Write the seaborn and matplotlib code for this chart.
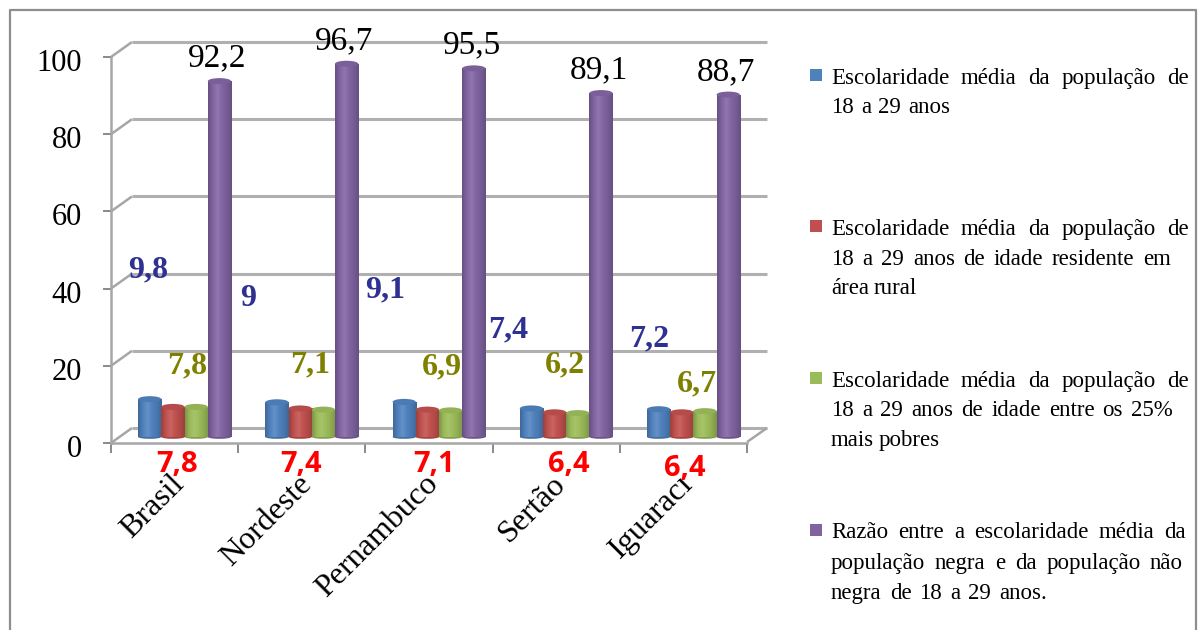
import numpy as np
import pandas as pd
import matplotlib
matplotlib.use("Agg")
import matplotlib.pyplot as plt
import matplotlib.transforms as mtrans
import seaborn as sns
from matplotlib.lines import Line2D
from matplotlib.patches import Ellipse, Rectangle
from matplotlib.colors import LinearSegmentedColormap, to_rgb

categories = ["Brasil", "Nordeste", "Pernambuco", "Sertão", "Iguaracı"]
series_names = ["Escolaridade média", "Escolaridade rural", "Escolaridade 25% mais pobres", "Razão negra / não negra"]
escolaridade = [9.8, 9.0, 9.1, 7.4, 7.2]
rural = [7.8, 7.4, 7.1, 6.4, 6.4]
pobres = [7.8, 7.1, 6.9, 6.2, 6.7]
razao = [92.2, 96.7, 95.5, 89.1, 88.7]
y_ticks = [0, 20, 40, 60, 80, 100]
colors = ["#4F81BD", "#C0504D", "#9BBB59", "#8064A2"]
legend_lines = [
    ["Escolaridade média da população de", "18 a 29 anos"],
    ["Escolaridade média da população de", "18 a 29 anos de idade residente em", "área rural"],
    ["Escolaridade média da população de", "18 a 29 anos de idade entre os 25%", "mais pobres"],
    ["Razão entre a escolaridade média da", "população negra e da população não", "negra de 18 a 29 anos."],
]
legend_line_ends = [[1189, 950], [1189, 1171, None], [1189, 1173, None], [1186, 1183, 1047]]
legend_line_y = [[84, 113], [235, 265, 294], [387, 416, 446], [538, 569, 599]]
legend_marker_y = [75, 226, 378, 530]
blue_label_xy = [(148, 270), (248, 298), (385, 290), (508, 330), (649, 339)]
red_label_xy = [(177, 464), (301, 464), (434, 464), (569, 464), (685, 468)]
green_label_xy = [(187, 366), (310, 365), (442, 367), (565, 365), (697, 384)]

W, H = 1200, 630
sns.set_theme(style="white")
plt.rcParams["font.family"] = ["Liberation Serif", "DejaVu Sans"]
fig = plt.figure(figsize=(12, 6.3), dpi=100)

def axrect(x0, x1, ytop, ybot):
    return [x0 / W, 1 - ybot / H, (x1 - x0) / W, (ybot - ytop) / H]

def fline(xs, ys, color="#A6A6A6", lw=1.8, z=-1):
    fig.add_artist(Line2D([x / W for x in xs], [1 - y / H for y in ys], color=color,
                          lw=lw, zorder=z, solid_capstyle="butt"))

def ftext(x, y, s, **kw):
    return fig.text(x / W, 1 - y / H, s, ha=kw.pop("ha", "center"), va=kw.pop("va", "center"), **kw)

# frame of the picture
fline([10, 10, 1196, 1196], [630, 10, 10, 630], color="#8E8E8E", lw=1.6)

# front axes: y scale, ticks and category labels
X0, X1, YT, YB = 111, 747, 57, 443
ax0 = fig.add_axes(axrect(X0, X1, YT, YB))
ax0.patch.set_visible(False)
ax0.set_xlim(0, len(categories))
ax0.set_ylim(0, 100)
for s in ["top", "right"]:
    ax0.spines[s].set_visible(False)
for s in ["left", "bottom"]:
    ax0.spines[s].set_color("#A6A6A6")
    ax0.spines[s].set_linewidth(1.8)
ax0.set_yticks(y_ticks)
ax0.set_yticklabels([str(v) for v in y_ticks], fontsize=22, color="black")
ax0.tick_params(axis="y", length=6, width=1.3, color="#808080", pad=15, left=True)
ax0.set_xticks(range(len(categories) + 1))
ax0.set_xticklabels([])
ax0.tick_params(axis="x", which="major", length=7.5, width=1.3, color="#808080", bottom=True)
ax0.set_xticks(np.arange(len(categories)) + 0.5, minor=True)
ax0.set_xticklabels(categories, minor=True, fontsize=23, rotation=45, ha="right",
                    rotation_mode="anchor", va="top", color="black")
ax0.tick_params(axis="x", which="minor", length=0, pad=19)
x_shift = mtrans.ScaledTranslation(-5 / 100, 0, fig.dpi_scale_trans)
for lab in ax0.get_xticklabels(minor=True):
    lab.set_transform(lab.get_transform() + x_shift)
y_shift = mtrans.ScaledTranslation(0, -3 / 100, fig.dpi_scale_trans)
for lab in ax0.get_yticklabels():
    lab.set_transform(lab.get_transform() + y_shift)

# back wall: depth lines and gridlines derived from the tick scale
DX, DY = 21, -15
for v in y_ticks:
    y = YB - (YB - YT) * v / 100
    fline([X0, X0 + DX], [y, y + DY])
    fline([X0 + DX, 767], [y + DY, y + DY], color="#B0B0B0", lw=2.2)
fline([X1, 767], [YB - 1, YB + DY])

# bars: shifted into the floor of the pseudo-3D box
SCALE = (YB - YT) / 100
ax = fig.add_axes(axrect(X0 + 10, X1 + 10, 437 - 100 * SCALE, 437))
ax.patch.set_visible(False)
df = pd.DataFrame({
    "categoria": categories * 4,
    "serie": np.repeat(series_names, len(categories)),
    "valor": escolaridade + rural + pobres + razao,
})
sns.barplot(data=df, x="categoria", y="valor", hue="serie", hue_order=series_names,
            order=categories, palette=colors, saturation=1, width=0.73, gap=0,
            legend=False, ax=ax, linewidth=0)
ax.set_xlim(-0.5, len(categories) - 0.5)
ax.set_ylim(0, 100)
ax.axis("off")

CAP = 6 / SCALE
for patch in list(ax.patches):
    px, py = patch.get_x(), patch.get_y()
    w, h = patch.get_width(), patch.get_height()
    base = np.array(to_rgb(patch.get_facecolor()))
    dark = base * 0.8
    light = base + (1 - base) * 0.12
    cmap = LinearSegmentedColormap.from_list("c", [dark, base, light, base, base * 0.92, dark])
    im = ax.imshow(np.linspace(0, 1, 64)[None, :], extent=[px, px + w, py, py + h],
                   cmap=cmap, aspect="auto", zorder=3)
    im.set_clip_path(patch)
    ax.add_patch(Ellipse((px + w / 2, py), w, CAP * 0.6, facecolor=base * 0.85, lw=0, zorder=2.5, clip_on=False))
    ax.add_patch(Ellipse((px + w / 2, py + h), w, CAP, facecolor=base * 0.95, lw=0, zorder=4, clip_on=False))
ax.set_xlim(-0.5, len(categories) - 0.5)
ax.set_ylim(0, 100)

# data labels
for i, v in enumerate(razao):
    ax.annotate(f"{v}".replace(".", ","), (i + 0.73 * 3 / 8, v), xytext=(-1.5, 16.5), textcoords="offset points",
                ha="center", va="center", fontsize=24, color="black", annotation_clip=False)
fmt = lambda v: f"{v:g}".replace(".", ",")
for (x, y), v in zip(blue_label_xy, escolaridade):
    ftext(x, y, fmt(v), fontsize=23, fontweight="bold", color="#2E3192")
for (x, y), v in zip(green_label_xy, pobres):
    ftext(x, y, fmt(v), fontsize=23, fontweight="bold", color="#808000")
for (x, y), v in zip(red_label_xy, rural):
    ftext(x, y, fmt(v), fontsize=21, fontweight="bold", color="#FF0000", family="Open Sans")

# legend with justified lines
fig.canvas.draw()
renderer = fig.canvas.get_renderer()
LX = 831
FS = 16.5
for lines, ends, ys, my, c in zip(legend_lines, legend_line_ends, legend_line_y, legend_marker_y, colors):
    fig.add_artist(Rectangle(((810) / W, 1 - (my + 6) / H), 12 / W, 12 / H, transform=fig.transFigure,
                             facecolor=c, edgecolor="none"))
    for line, end, y in zip(lines, ends, ys):
        words = line.split(" ")
        objs = [ftext(LX, y, wd, ha="left", va="baseline", fontsize=FS, color="black") for wd in words]
        widths = [o.get_window_extent(renderer).width for o in objs]
        space = 4.5
        if end is not None and len(words) > 1:
            space = (end - LX - sum(widths)) / (len(words) - 1)
        x = LX
        for o, wdt in zip(objs, widths):
            o.set_position((x / W, 1 - y / H))
            x += wdt + space

fig.savefig("out.png", dpi=100)
